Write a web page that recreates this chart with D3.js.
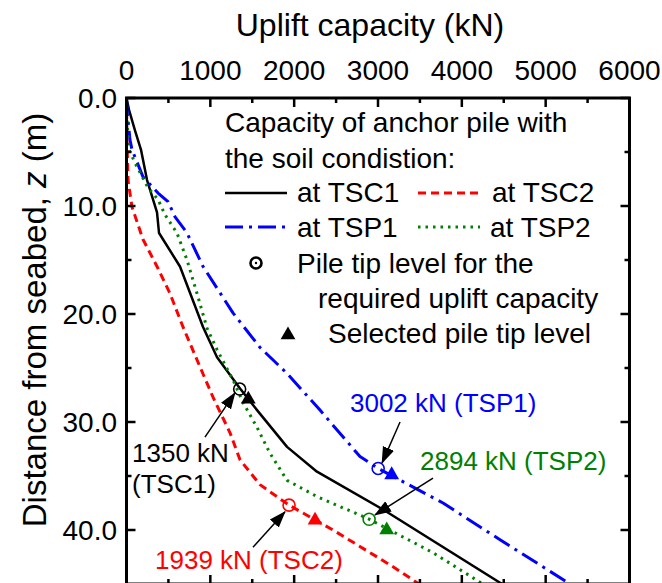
<!DOCTYPE html>
<html><head><meta charset="utf-8">
<script src="https://cdn.jsdelivr.net/npm/d3@7"></script>
<style>html,body{margin:0;padding:0;background:#fff;}svg{display:block;font-family:"Liberation Sans",Arial,Helvetica,sans-serif;}</style>
</head><body>
<svg id="chart" width="662" height="583"></svg>
<script>
// ---- data: [uplift capacity (kN), depth z (m)] ----
const tsc1 = [[0,0],[30,1.1],[101,3.0],[173,4.8],[245,7.6],[364,10.6],[388,12.5],[638,15.6],[913,21.2],[1080,24.0],[1354,26.9],[1557,28.9],[1915,32.3],[2272,34.6],[3060,38.1],[4480,45.0]];
const tsc2 = [[0,0],[6,3.9],[18,7.6],[66,10.1],[197,13.1],[364,15.6],[519,18.1],[674,21.2],[877,24.9],[1032,27.7],[1235,31.0],[1354,33.5],[1592,35.8],[1939,37.7],[2463,40.0],[3179,43.4],[3490,45.0]];
const tsp1 = [[0,0],[6,1.1],[42,3.9],[66,4.8],[197,7.3],[376,8.8],[495,9.6],[579,11.0],[722,12.5],[913,15.6],[1270,19.9],[1593,23.1],[1915,25.5],[2308,28.9],[2785,33.2],[3002,34.3],[3776,37.5],[4456,40.9],[5290,45.0]];
const tsp2 = [[0,0],[6,2.0],[30,4.8],[101,6.0],[256,8.3],[376,9.4],[459,10.8],[602,12.5],[722,15.0],[841,18.1],[960,21.3],[1080,23.3],[1270,26.1],[1390,28.2],[1557,30.5],[1712,32.9],[1915,35.4],[2272,36.9],[2894,39.0],[3656,42.1],[4250,45.0]];
const seriesNames = ["TSC1","TSC2","TSP1","TSP2"];
const seriesColors = ["#000000","#ff0000","#0000ff","#008000"];
// required capacity points (circles) and selected tip levels (triangles)
const requiredCap = [1350,1939,3002,2894];
const requiredDepth = [26.95,37.7,34.3,39.0];
const selectedCap = [1453,2249,3163,3104];
const selectedDepth = [27.9,39.1,34.9,40.0];
// annotation labels
const annLines = [["1350 kN","(TSC1)"],["1939 kN (TSC2)"],["3002 kN (TSP1)"],["2894 kN (TSP2)"]];
const annTextPos = [[66,33.7],[340,43.6],[2666,29.1],[3501,34.4]];
const annArrowFrom = [[936,31.4],[1509,41.6],[3263,30.0],[3656,35.2]];
const annArrowTo = [[1294,27.3],[1891,38.3],[3048,33.8],[2964,38.6]];
// ticks
const xTicks = [0,1000,2000,3000,4000,5000,6000];
const xMinor = [500,1500,2500,3500,4500,5500];
const yTicks = [0,10,20,30,40];
const yTickLabels = ["0.0","10.0","20.0","30.0","40.0"];
const yMinor = [5,15,25,35];

const svg = d3.select("#chart");
const x = d3.scaleLinear().domain([0,6000]).range([126.5,629.5]);
const y = d3.scaleLinear().domain([0,45]).range([98,584]);

const defs = svg.append("defs");
defs.append("clipPath").attr("id","clip").append("rect")
  .attr("x",126.5).attr("y",98).attr("width",503).attr("height",486);
defs.append("marker").attr("id","arr").attr("markerUnits","userSpaceOnUse")
  .attr("viewBox","0 -7 17 14").attr("markerWidth",17).attr("markerHeight",14)
  .attr("refX",16).attr("refY",0).attr("orient","auto")
  .append("path").attr("d","M0,-6L17,0L0,6Z").attr("fill","#000");

const fs = 28;
// ---- curves ----
const line = d3.line().x(d=>x(d[0])).y(d=>y(d[1]));
const allSeries = [tsc1,tsc2,tsp1,tsp2];
const dashes = [null,"8,5","18,6,3,6","2.5,5"];
const widths = [2.5,3,3,3];
const gCurves = svg.append("g").attr("clip-path","url(#clip)");
allSeries.forEach((s,i)=>{
  gCurves.append("path").datum(s).attr("d",line).attr("fill","none")
    .attr("stroke",seriesColors[i]).attr("stroke-width",widths[i])
    .attr("stroke-dasharray",dashes[i]).attr("stroke-linejoin","round");
});

// ---- markers ----
const tri = d3.symbol().type(d3.symbolTriangle).size(95);
seriesNames.forEach((n,i)=>{
  svg.append("circle").attr("cx",x(requiredCap[i])).attr("cy",y(requiredDepth[i])).attr("r",6)
    .attr("fill","none").attr("stroke",seriesColors[i]).attr("stroke-width",1.6);
  svg.append("path").attr("d",tri).attr("transform",`translate(${x(selectedCap[i])},${y(selectedDepth[i])})`)
    .attr("fill",seriesColors[i]);
});

// ---- annotations ----
seriesNames.forEach((n,i)=>{
  svg.append("line").attr("x1",x(annArrowFrom[i][0])).attr("y1",y(annArrowFrom[i][1]))
    .attr("x2",x(annArrowTo[i][0])).attr("y2",y(annArrowTo[i][1]))
    .attr("stroke","#000").attr("stroke-width",1.5).attr("marker-end","url(#arr)");
  annLines[i].forEach((t,k)=>{
    svg.append("text").attr("x",x(annTextPos[i][0])).attr("y",y(annTextPos[i][1])+k*31)
      .attr("font-size",26).attr("fill",seriesColors[i]).text(t);
  });
});

// ---- frame & ticks ----
const X0 = x(0), X1 = x(6000), Y0 = y(0), Y1 = y(45);
svg.append("rect").attr("x",X0).attr("y",Y0).attr("width",X1-X0).attr("height",Y1-Y0)
  .attr("fill","none").attr("stroke","#000").attr("stroke-width",3);
const tk = svg.append("g").attr("stroke","#000").attr("stroke-width",2.5);
xTicks.forEach(v=>{ tk.append("line").attr("x1",x(v)).attr("x2",x(v)).attr("y1",Y0).attr("y2",Y0+9);
  tk.append("line").attr("x1",x(v)).attr("x2",x(v)).attr("y1",Y1).attr("y2",Y1-9); });
xMinor.forEach(v=>{ tk.append("line").attr("x1",x(v)).attr("x2",x(v)).attr("y1",Y0).attr("y2",Y0+5);
  tk.append("line").attr("x1",x(v)).attr("x2",x(v)).attr("y1",Y1).attr("y2",Y1-5); });
yTicks.forEach(v=>{ tk.append("line").attr("y1",y(v)).attr("y2",y(v)).attr("x1",X0).attr("x2",X0+9);
  tk.append("line").attr("y1",y(v)).attr("y2",y(v)).attr("x1",X1).attr("x2",X1-9); });
yMinor.forEach(v=>{ tk.append("line").attr("y1",y(v)).attr("y2",y(v)).attr("x1",X0).attr("x2",X0+5);
  tk.append("line").attr("y1",y(v)).attr("y2",y(v)).attr("x1",X1).attr("x2",X1-5); });

svg.append("g").selectAll("text").data(xTicks).join("text")
  .attr("x",d=>x(d)).attr("y",80).attr("text-anchor","middle").attr("font-size",fs).text(d=>d);
svg.append("g").selectAll("text").data(yTicks).join("text")
  .attr("x",117).attr("y",d=>y(d)).attr("dy","0.35em").attr("text-anchor","end").attr("font-size",fs)
  .text((d,i)=>yTickLabels[i]);

svg.append("text").attr("x",(X0+X1)/2-8).attr("y",36).attr("text-anchor","middle")
  .attr("font-size",32).text("Uplift capacity (kN)");
const yl = svg.append("text").attr("transform","translate(46,320) rotate(-90)").attr("text-anchor","middle")
  .attr("font-size",33);
yl.append("tspan").text("Distance from seabed, ");
yl.append("tspan").attr("font-style","italic").text("z");
yl.append("tspan").text(" (m)");

// ---- legend ----
const lg = svg.append("g").attr("font-size",fs);
lg.append("text").attr("x",225).attr("y",132).text("Capacity of anchor pile with");
lg.append("text").attr("x",225).attr("y",168).text("the soil condistion:");
const legRows = [[225,193,297,202],[418,193,492,202],[225,227,297,237],[418,227,490,237]];
seriesNames.forEach((n,i)=>{
  const r = legRows[i];
  lg.append("line").attr("x1",r[0]).attr("x2",r[0]+62).attr("y1",r[1]).attr("y2",r[1])
    .attr("stroke",seriesColors[i]).attr("stroke-width",widths[i]).attr("stroke-dasharray",dashes[i]);
  lg.append("text").attr("x",r[2]).attr("y",r[3]).text("at "+n);
});
lg.append("circle").attr("cx",256).attr("cy",263).attr("r",5.5).attr("fill","none").attr("stroke","#000").attr("stroke-width",2.6);
lg.append("circle").attr("cx",256).attr("cy",263).attr("r",1.2).attr("fill","#000");
lg.append("text").attr("x",297).attr("y",273).text("Pile tip level for the");
lg.append("text").attr("x",318).attr("y",308).text("required uplift capacity");
lg.append("path").attr("d",tri).attr("transform","translate(288,335)").attr("fill","#000");
lg.append("text").attr("x",328).attr("y",343).text("Selected pile tip level");
</script>
</body></html>
